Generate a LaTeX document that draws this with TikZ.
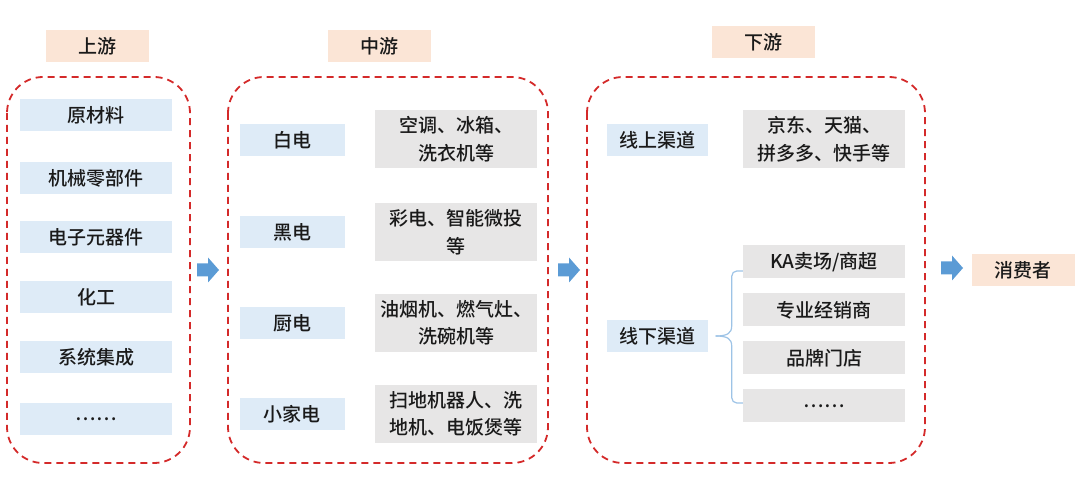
\documentclass[tikz,border=0pt]{standalone}
\usepackage{fontspec}
\setmainfont{Noto Sans CJK SC}[UprightFont=* Medium]
\usetikzlibrary{calc}
\definecolor{boxblue}{HTML}{DEEBF7}
\definecolor{boxgray}{HTML}{E7E6E6}
\definecolor{peachc}{HTML}{FBE5D6}
\definecolor{dashred}{HTML}{D42A2A}
\definecolor{arrowblue}{HTML}{5B9BD5}
\definecolor{bracketc}{HTML}{9DC3E6}
\definecolor{txtc}{HTML}{1A1A1A}
\begin{document}
\begin{tikzpicture}[x=1pt,y=-1pt,
 txt/.style={font=\fontsize{19}{27.5}\selectfont, text=txtc, inner sep=0pt, align=center},
 bluebox/.style={txt, fill=boxblue, minimum height=32pt},
 graybox/.style={txt, fill=boxgray, minimum width=162pt},
 peach/.style={txt, fill=peachc, minimum width=103pt, minimum height=32pt},
 region/.style={draw=dashred, line width=1.8pt, dash pattern=on 7pt off 5pt, rounded corners=36pt},
 blockarrow/.style={fill=arrowblue, draw=none},
 bracket/.style={draw=bracketc, line width=1.2pt}]
\useasboundingbox (0,0) rectangle (1080,494);

% headings
\node[peach] (h1) at (97,46) {上游};
\node[peach] (h2) at (379,46) {中游};
\node[peach] (h3) at (763,42) {下游};

% regions
\draw[region] (7,77) rectangle (190,463);
\draw[region] (228,77) rectangle (548,463);
\draw[region] (587,77) rectangle (925,463);

% upstream
\node[bluebox, minimum width=152pt] (u1) at (96,115) {原材料};
\node[bluebox, minimum width=152pt] (u2) at (96,178) {机械零部件};
\node[bluebox, minimum width=152pt] (u3) at (96,237) {电子元器件};
\node[bluebox, minimum width=152pt] (u4) at (96,297) {化工};
\node[bluebox, minimum width=152pt] (u5) at (96,357) {系统集成};
\node[bluebox, minimum width=152pt] (u6) at (96,419) {……};

% midstream
\node[bluebox, minimum width=105pt] (m1) at (292,140) {白电};
\node[bluebox, minimum width=105pt] (m2) at (292,232) {黑电};
\node[bluebox, minimum width=105pt] (m3) at (292,323) {厨电};
\node[bluebox, minimum width=105pt] (m4) at (292,414) {小家电};
\node[graybox, minimum height=58pt] (g1) at (456,139) {空调、冰箱、\\洗衣机等};
\node[graybox, minimum height=58pt] (g2) at (456,232) {彩电、智能微投\\等};
\node[graybox, minimum height=58pt] (g3) at (456,323) {油烟机、燃气灶、\\洗碗机等};
\node[graybox, minimum height=58pt] (g4) at (456,414) {扫地机器人、洗\\地机、电饭煲等};

% downstream
\node[bluebox, minimum width=101pt] (d1) at (657,140) {线上渠道};
\node[bluebox, minimum width=101pt] (d2) at (657,336) {线下渠道};
\node[graybox, minimum height=58pt] (o1) at (824,139) {京东、天猫、\\拼多多、快手等};
\node[graybox, minimum height=33pt] (k1) at (824,262) {KA卖场/商超};
\node[graybox, minimum height=33pt] (k2) at (824,310) {专业经销商};
\node[graybox, minimum height=33pt] (k3) at (824,358) {品牌门店};
\node[graybox, minimum height=33pt] (k4) at (824,406) {……};

% consumer
\node[peach] (c) at (1023,270) {消费者};

% bracket
\coordinate (bs) at ($(d2.east)+(8,0)$);
\coordinate (bt) at ($(k1.west)+(0,9)$);
\coordinate (bb) at ($(k4.west)+(0,-3)$);
\draw[bracket, rounded corners=5pt] (bt) -- ++(-11,0) -- ($(bs)+(16,-10)$);
\draw[bracket, rounded corners=5pt] (bb) -- ++(-11,0) -- ($(bs)+(16,10)$);
\draw[bracket] (bs) .. controls ($(bs)+(12,0)$) and ($(bs)+(16,-3)$) .. ($(bs)+(16,-10)$);
\draw[bracket] (bs) .. controls ($(bs)+(12,0)$) and ($(bs)+(16,3)$) .. ($(bs)+(16,10)$);

% block arrows
\foreach \ax/\ay in {197/270, 558/270, 941/268} {
  \fill[blockarrow] (\ax,\ay-6.5) -- (\ax+11,\ay-6.5) -- (\ax+11,\ay-12.5) -- (\ax+22,\ay)
    -- (\ax+11,\ay+12.5) -- (\ax+11,\ay+6.5) -- (\ax,\ay+6.5) -- cycle;
}
\end{tikzpicture}
\end{document}
